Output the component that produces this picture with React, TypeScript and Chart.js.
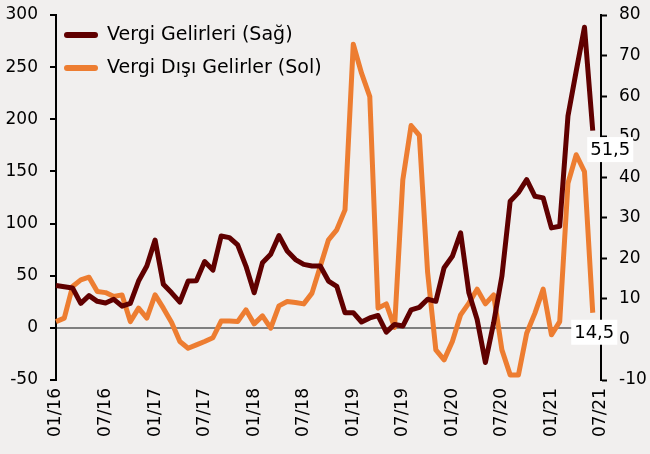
import React, { useEffect, useRef } from "react";
import { Chart, registerables } from "chart.js";

Chart.register(...registerables);

const years = ["16", "17", "18", "19", "20", "21"];
const months = ["01", "02", "03", "04", "05", "06", "07", "08", "09", "10", "11", "12"];
const categories: string[] = [];
years.forEach((y) => months.forEach((m) => categories.push(m + "/" + y)));
const xLabels = categories.slice(0, 67); // 01/16 .. 07/21

// Vergi Gelirleri (Sağ) – right axis
const vergiGelirleri = [
  13.3, 13.0, 12.7, 8.9, 10.8, 9.4, 9.0, 9.9, 8.2, 8.9, 14.4, 18.1,
  24.5, 13.6, 11.5, 9.2, 14.4, 14.5, 19.2, 17.1, 25.5, 25.1, 23.3, 18.1,
  11.5, 18.9, 21.0, 25.6, 21.8, 19.7, 18.5, 18.1, 18.1, 14.4, 13.1, 6.6,
  6.6, 4.3, 5.3, 5.9, 1.8, 3.7, 3.3, 7.3, 7.9, 9.9, 9.4, 17.7,
  20.5, 26.3, 11.5, 4.9, -5.7, 4.1, 15.6, 34.1, 36.2, 39.4, 35.3, 34.9,
  27.5, 27.9, 55.1, 66.2, 77.0, 51.5,
];

// Vergi Dışı Gelirler (Sol) – left axis
const vergiDisiGelirler = [
  6.0, 9.3, 39.6, 46.0, 48.6, 34.8, 33.8, 30.0, 31.6, 6.0, 18.9, 9.3,
  31.6, 18.9, 5.1, -13.1, -19.5, -16.3, -13.1, -9.5, 6.5, 6.5, 6.0, 17.3,
  3.8, 11.5, -0.3, 21.1, 25.2, 24.3, 23.0, 33.3, 58.8, 84.4, 94.0, 113.1,
  272.0, 244.2, 221.8, 18.9, 23.0, 0.5, 141.9, 194.0, 184.5, 53.5, -21.1, -30.7,
  -13.1, 12.5, 23.7, 37.1, 23.0, 31.6, -21.1, -45.1, -45.1, -5.1, 14.1, 37.1,
  -6.7, 6.0, 138.7, 166.0, 149.9, 14.5,
];

const endLabels = ["51,5", "14,5"];
const leftTicks = { min: -50, max: 300, step: 50 };
const rightTicks = { min: -10, max: 80, step: 10 };

const DARK = "#600000";
const ORANGE = "#ed7d31";
const BG = "#f1efee";
const FONT = "DejaVu Sans";

export default function App() {
  const ref = useRef<HTMLCanvasElement | null>(null);

  useEffect(() => {
    document.body.style.margin = "0";
    document.body.style.background = BG;
    const canvas = ref.current!;

    const overlay = {
      id: "overlay",
      afterDraw(chart: any) {
        const ctx = chart.ctx;
        const area = chart.chartArea;
        ctx.save();
        // legend
        const rows = [
          { text: "Vergi Gelirleri (Sağ)", color: DARK },
          { text: "Vergi Dışı Gelirler (Sol)", color: ORANGE },
        ];
        ctx.font = `19px "${FONT}"`;
        ctx.textBaseline = "middle";
        ctx.textAlign = "left";
        rows.forEach((r, i) => {
          const y = area.top + 20 + i * 33;
          ctx.strokeStyle = r.color;
          ctx.lineWidth = 6;
          ctx.lineCap = "round";
          ctx.beginPath();
          ctx.moveTo(area.left + 11, y);
          ctx.lineTo(area.left + 39, y);
          ctx.stroke();
          ctx.fillStyle = "#000";
          ctx.fillText(r.text, area.left + 51, y);
        });
        // end labels
        ctx.font = `18px "${FONT}"`;
        const offsets = [
          { dx: 17.5, dy: 19 },
          { dx: 1.5, dy: 19.5 },
        ];
        [0, 1].forEach((di) => {
          const meta = chart.getDatasetMeta(di);
          const pt = meta.data[meta.data.length - 1];
          const cx = pt.x + offsets[di].dx;
          const cy = pt.y + offsets[di].dy;
          const t = endLabels[di];
          const w = ctx.measureText(t).width + 6;
          const h = 25;
          ctx.fillStyle = "#fff";
          ctx.fillRect(cx - w / 2, cy - h / 2, w, h);
          ctx.fillStyle = "#000";
          ctx.textAlign = "center";
          ctx.fillText(t, cx, cy + 1);
        });
        ctx.restore();
      },
    };

    const chart = new Chart(canvas, {
      type: "line",
      data: {
        labels: xLabels,
        datasets: [
          {
            label: "Vergi Gelirleri (Sağ)",
            data: vergiGelirleri,
            borderColor: DARK,
            backgroundColor: DARK,
            borderWidth: 5,
            borderJoinStyle: "round",
            pointRadius: 0,
            tension: 0,
            yAxisID: "y1",
          },
          {
            label: "Vergi Dışı Gelirler (Sol)",
            data: vergiDisiGelirler,
            borderColor: ORANGE,
            backgroundColor: ORANGE,
            borderWidth: 5,
            borderJoinStyle: "round",
            pointRadius: 0,
            tension: 0,
            yAxisID: "y",
          },
        ],
      },
      options: {
        responsive: false,
        animation: false,
        layout: { padding: { top: 15, left: 0, right: 0, bottom: 0 } },
        plugins: { legend: { display: false }, tooltip: { enabled: false } },
        scales: {
          x: {
            type: "category",
            offset: false,
            grid: { display: false, drawTicks: false },
            border: { display: false },
            ticks: {
              autoSkip: false,
              minRotation: 90,
              maxRotation: 90,
              padding: 8,
              color: "#000",
              font: { family: FONT, size: 17 },
              callback: function (this: any, value: any, index: number) {
                return index % 6 === 0 ? xLabels[index] : "";
              },
            },
            afterFit(scale: any) {
              scale.height = 74;
              scale.paddingLeft = 0;
              scale.paddingRight = 0;
            },
          },
          y: {
            position: "left",
            min: leftTicks.min,
            max: leftTicks.max,
            grid: {
              drawOnChartArea: true,
              color: (c: any) => (c.tick && c.tick.value === 0 ? "#7f7f7f" : "rgba(0,0,0,0)"),
              lineWidth: 2,
              tickColor: "#000",
              tickWidth: 2,
              tickLength: 6,
            },
            border: { display: true, color: "#000", width: 2 },
            ticks: {
              stepSize: leftTicks.step,
              padding: 12,
              color: "#000",
              font: { family: FONT, size: 17 },
            },
            afterFit(scale: any) {
              scale.width = 56;
              scale.paddingTop = 0;
              scale.paddingBottom = 0;
            },
          },
          y1: {
            position: "right",
            min: rightTicks.min,
            max: rightTicks.max,
            grid: {
              drawOnChartArea: false,
              tickColor: "#000",
              tickWidth: 2,
              tickLength: 6,
            },
            border: { display: true, color: "#000", width: 2 },
            ticks: {
              stepSize: rightTicks.step,
              padding: 12,
              color: "#000",
              font: { family: FONT, size: 17 },
            },
            afterFit(scale: any) {
              scale.width = 49;
              scale.paddingTop = 0;
              scale.paddingBottom = 0;
            },
          },
        },
      },
      plugins: [overlay],
    });

    return () => chart.destroy();
  }, []);

  return (
    <div style={{ width: 650, height: 454, background: BG }}>
      <canvas ref={ref} width={650} height={454} style={{ display: "block" }} />
    </div>
  );
}
